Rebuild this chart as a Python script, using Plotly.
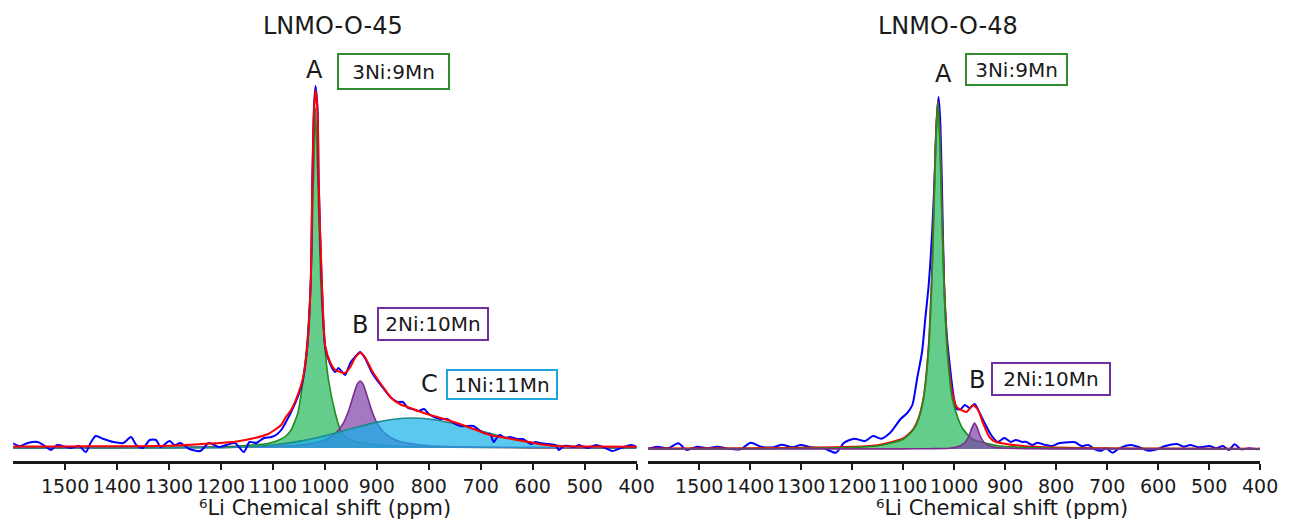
import plotly.graph_objects as go

# ---------------- data (intensity in arbitrary units) ----------------
TICKS = [1500, 1400, 1300, 1200, 1100, 1000, 900, 800, 700, 600, 500, 400]
TICK_TEXT = [str(t) for t in TICKS]

# LNMO-O-45 : component A (3Ni:9Mn)
ppm_L_A = [1600, 1400, 1300, 1200, 1150, 1110, 1088, 1075, 1065, 1052, 1042, 1035, 1027, 1022, 1018,
           1013.5, 1008, 1000, 993, 980, 970, 960, 945, 920, 900, 850, 800, 700, 600, 400]
green_L = [0.2, 0.4, 0.6, 1.3, 2.5, 4.5, 8, 12, 18, 35, 68, 101, 168, 268, 340,
           268, 168, 101, 68, 35, 18, 11, 7, 4.5, 3.3, 1.8, 1.1, 0.6, 0.35, 0.15]
# component B (2Ni:10Mn)
ppm_L_B = [1600, 1400, 1200, 1100, 1050, 1020, 1000, 980, 965, 955, 945, 938, 932, 926, 919, 909,
           899, 884, 864, 850, 800, 700, 600, 400]
purple_L = [0.1, 0.2, 0.6, 1.4, 2.8, 5.0, 8.0, 14.3, 24.4, 36.3, 52.7, 63.3, 67, 63.3, 52.7, 36.3,
            24.4, 14.3, 8.0, 5.7, 2.3, 0.8, 0.4, 0.15]
# component C (1Ni:11Mn)
ppm_L_C = [1600, 1300, 1200, 1150, 1100, 1050, 1000, 950, 900, 850, 832, 800, 750, 700, 650, 600,
           550, 500, 450, 400]
cyan_L = [0, 0.1, 0.4, 1.2, 3.0, 6.6, 12.2, 19.2, 25.9, 29.7, 30, 29.0, 24.2, 17.2, 10.4, 5.4,
          2.4, 0.9, 0.3, 0.1]
# total fit
ppm_L_fit = [1600, 1500, 1400, 1300, 1236, 1173, 1135, 1109, 1094, 1084, 1075, 1065, 1056, 1043, 1034,
             1027, 1024, 1021, 1018, 1014, 1012, 1006, 999, 989, 980, 970, 961, 951, 942, 932, 923,
             910, 904, 888, 872, 856, 841, 809, 777, 746, 714, 682, 651, 619, 588, 556, 486, 400]
red_L = [1.5, 1.5, 1.8, 2.3, 4, 6.3, 10, 14, 19, 23, 31, 38, 48, 68, 101,
         168, 268, 335, 358, 335, 268, 168, 101, 85, 78, 76, 75, 81, 90, 95, 91,
         78, 73, 61, 50, 44, 41, 35, 30, 25, 19, 13, 10, 7, 4, 2, 1.5, 1.2]
# experimental spectrum
ppm_L_exp = [1600, 1587, 1572, 1553, 1536, 1527, 1515, 1498, 1489, 1473, 1460, 1451, 1441, 1426, 1407,
             1388, 1373, 1363, 1350, 1337, 1325, 1316, 1299, 1289, 1278, 1261, 1240, 1223, 1204, 1190,
             1173, 1156, 1145, 1132, 1126, 1117, 1103, 1094, 1084, 1075, 1065, 1056, 1043, 1034, 1027,
             1024, 1021, 1018, 1014, 1012, 1006, 999, 989, 980, 974, 967, 961, 951, 942, 932,
             923, 910, 904, 888, 872, 860, 850, 840, 831, 820, 809, 800, 790, 778, 765,
             752, 739, 726, 714, 698, 688, 682, 675, 668, 663, 652, 644, 630, 619, 603,
             595, 587, 570, 556, 550, 540, 530, 520, 511, 495, 478, 460, 447, 430, 410, 400]
blue_L = [4.7, 2, 5, 6, 1, -2, 3, 1, 0, 2, -4, 5, 12, 9, 6,
          5, 11, 3, 0, 8, 8, 1, 7, 3, 5, -1, -3, 5, 1, 3,
          5, -4, 6, 5, 7, 10, 11, 13, 18, 26, 36, 46, 66, 100, 170,
          270, 340, 362, 338, 270, 165, 100, 83, 76, 80, 76, 73, 85, 91, 96,
          90, 76, 71, 60, 50, 46, 46, 40, 39, 37, 39, 34, 31, 29, 29,
          25, 22, 22, 22, 16, 14, 14, 6, 11, 13, 10, 11, 9, 9, 4,
          6, 5, 4, 3, -2, 2, 2, 1, 3, 0, 3, 0, -3, 0, 3, 1]

# LNMO-O-48 : component A (3Ni:9Mn)
ppm_R_A = [1600, 1400, 1300, 1200, 1150, 1100, 1080, 1070, 1060, 1050, 1044, 1040, 1036, 1032, 1028,
           1024, 1020, 1014, 1004, 994, 984, 964, 914, 864, 764, 664, 400]
green_R = [0.15, 0.35, 0.65, 1.65, 3.3, 9.8, 19.2, 29.6, 50.8, 101.8, 167.6, 235, 310, 347, 310,
           235, 167.6, 101.8, 50.8, 33, 21, 9.8, 3.3, 1.65, 0.65, 0.35, 0.12]
# component B (2Ni:10Mn)
ppm_R_B = [1600, 1200, 1100, 1050, 1010, 990, 980, 975, 970, 965, 960, 955, 950, 945, 940, 930,
           910, 860, 760, 400]
purple_R = [0, 0.1, 0.15, 0.3, 0.8, 2.8, 6, 9.1, 14.2, 21.5, 26, 21.5, 14.2, 9.1, 6, 3.1,
            1.2, 0.3, 0.1, 0]
# total fit
ppm_R_fit = [1600, 1400, 1300, 1200, 1150, 1100, 1080, 1070, 1060, 1050, 1044, 1040, 1036, 1032, 1028,
             1024, 1020, 1014, 1004, 995, 986, 976, 963, 953, 943.5, 931, 918, 898, 866, 800,
             700, 600, 400]
red_R = [0.5, 0.8, 1.2, 2.2, 3.8, 10.5, 20, 30.5, 51.5, 102.5, 168.5, 236, 311, 348, 311,
         236, 169, 104, 57, 42, 39, 37, 44, 39, 26, 12, 7, 5, 3, 1.5,
         0.8, 0.5, 0.3]
# experimental spectrum
ppm_R_exp = [1600, 1598, 1582, 1561, 1541, 1525, 1504, 1484, 1464, 1444, 1419, 1399, 1379, 1354, 1338,
             1317, 1301, 1281, 1256, 1232, 1216, 1196, 1175, 1159, 1143, 1126, 1118, 1105, 1092, 1082,
             1072.5, 1063, 1056.5, 1050, 1043.5, 1039, 1034, 1030.6, 1027.5, 1024, 1019.7, 1014.5, 1008,
             1001.5, 995, 987, 979, 969.4, 959.8, 950, 940.4, 927.5, 914.5, 901.7, 888.8, 879, 866,
             859.6, 847, 837, 827.5, 821, 808, 795, 776, 763, 750, 737, 724, 711, 702, 689, 676,
             653, 637, 618, 602, 586, 563, 550, 537, 521, 499, 486, 473, 461, 450, 437.5, 421, 405, 400]
blue_R = [1, 0.7, 2.3, 0.7, 5.7, -1, 2.3, 0.7, 2.3, 0.3, -0.3, 6.3, 2.3, 1.7, 4.3,
          1.7, 4, 1.7, 0.7, -3.7, 6.3, 10.3, 8, 13, 10.3, 16, 21, 30, 36, 44,
          71, 97, 131, 164, 214, 264, 331, 352, 330, 264, 164, 114, 81,
          54, 40, 40, 44, 41, 45, 36, 26, 14, 7, 11, 7, 9, 7,
          7.3, 4, 6.3, 5, 4, 3, 5.7, 6.7, 6.7, 3, 4, -0.3, -1.7, 0.7, -3.7, 0.7,
          4, 1.7, -1.7, -0.3, 3, 5, 2.3, 4, 1.7, 3, 0.7, 3, -1, 4.7, -0.3, 0.7, -0.3, 0.5]

# ---------------- styling ----------------
W, H = 1306, 521
FONT = "DejaVu Sans"
TXT = "#1a1a1a"
GREEN_FILL, GREEN_LINE = "rgba(34,184,91,0.7)", "#1e8c1e"
PURPLE_FILL, PURPLE_LINE = "rgba(126,62,169,0.7)", "#7b2d8b"
CYAN_FILL, CYAN_LINE = "rgba(21,176,233,0.7)", "#1f8a8a"
BOX_GREEN, BOX_PURPLE, BOX_CYAN = "#2e8b2e", "#7030a0", "#1ea5e0"


def px_x(p):
    return p / W


def px_y(p):
    return 1 - p / H


fig = go.Figure()


def comp(x, y, fill, line, xa, ya):
    fig.add_trace(go.Scatter(x=x, y=y, mode="lines", fill="tozeroy", fillcolor=fill,
                             line=dict(color=line, width=1.6, shape="spline", smoothing=0.6),
                             xaxis=xa, yaxis=ya, showlegend=False, hoverinfo="skip"))


def curve(x, y, color, xa, ya, sm=0.7):
    fig.add_trace(go.Scatter(x=x, y=y, mode="lines",
                             line=dict(color=color, width=2, shape="spline", smoothing=sm),
                             xaxis=xa, yaxis=ya, showlegend=False, hoverinfo="skip"))


# left panel
comp(ppm_L_A, green_L, GREEN_FILL, GREEN_LINE, "x", "y")
comp(ppm_L_B, purple_L, PURPLE_FILL, PURPLE_LINE, "x", "y")
comp(ppm_L_C, cyan_L, CYAN_FILL, CYAN_LINE, "x", "y")
curve(ppm_L_exp, blue_L, "#0000ff", "x", "y")
curve(ppm_L_fit, red_L, "#ff0000", "x", "y", 0.6)

# right panel
curve(ppm_R_exp, blue_R, "#0000ff", "x2", "y2")
curve(ppm_R_fit, red_R, "#ff0000", "x2", "y2", 0.6)
comp(ppm_R_A, green_R, GREEN_FILL, GREEN_LINE, "x2", "y2")
comp(ppm_R_B, purple_R, PURPLE_FILL, PURPLE_LINE, "x2", "y2")

xaxis_common = dict(range=[1600, 400], tickmode="array", tickvals=TICKS, ticktext=TICK_TEXT,
                    ticks="outside", ticklen=6, tickwidth=1.5, tickcolor=TXT,
                    showline=True, linecolor=TXT, linewidth=2.5, showgrid=False, zeroline=False,
                    tickfont=dict(family=FONT, size=19, color=TXT), fixedrange=True)
y_dom = [px_y(461), px_y(40)]

fig.update_layout(
    width=W, height=H, margin=dict(l=0, r=0, t=0, b=0),
    paper_bgcolor="white", plot_bgcolor="white",
    xaxis=dict(domain=[px_x(13.3), px_x(645.5)], anchor="y", **xaxis_common),
    yaxis=dict(domain=y_dom, range=[-13, 408], visible=False, fixedrange=True),
    xaxis2=dict(domain=[px_x(657.3), px_x(1277.7)], anchor="y2", **xaxis_common),
    yaxis2=dict(domain=y_dom, range=[-12, 409], visible=False, fixedrange=True),
)

ann = []


def text(x, y, s, size, color=TXT):
    ann.append(dict(xref="paper", yref="paper", x=px_x(x), y=px_y(y), text=s, showarrow=False,
                    xanchor="center", yanchor="middle", font=dict(family=FONT, size=size, color=color)))


def box(x, y, s, border, w, h):
    ann.append(dict(xref="paper", yref="paper", x=px_x(x), y=px_y(y), text=s, showarrow=False,
                    xanchor="center", yanchor="middle", width=w, height=h, align="center",
                    bordercolor=border, borderwidth=2, borderpad=0, bgcolor="white",
                    font=dict(family=FONT, size=20, color=TXT)))


# titles
text(338, 26, "LNMO-O-45", 24)
text(961, 26, "LNMO-O-48", 24)
# axis titles
text(330, 508, "\u2076Li Chemical shift (ppm)", 21)
text(1016, 508, "\u2076Li Chemical shift (ppm)", 21)
# peak letters
text(319, 70, "A", 24)
text(365, 325, "B", 24)
text(436, 384, "C", 24)
text(957, 74, "A", 24)
text(991, 380, "B", 24)
# boxed site labels
box(399.5, 71.5, "3Ni:9Mn", BOX_GREEN, 109, 33)
box(439, 324, "2Ni:10Mn", BOX_PURPLE, 108, 30)
box(509, 384, "1Ni:11Mn", BOX_CYAN, 108, 27)
box(1030.5, 69.5, "3Ni:9Mn", BOX_GREEN, 99, 29)
box(1066, 379, "2Ni:10Mn", BOX_PURPLE, 116, 30)

fig.update_layout(annotations=ann)
fig.write_html("out.html")
